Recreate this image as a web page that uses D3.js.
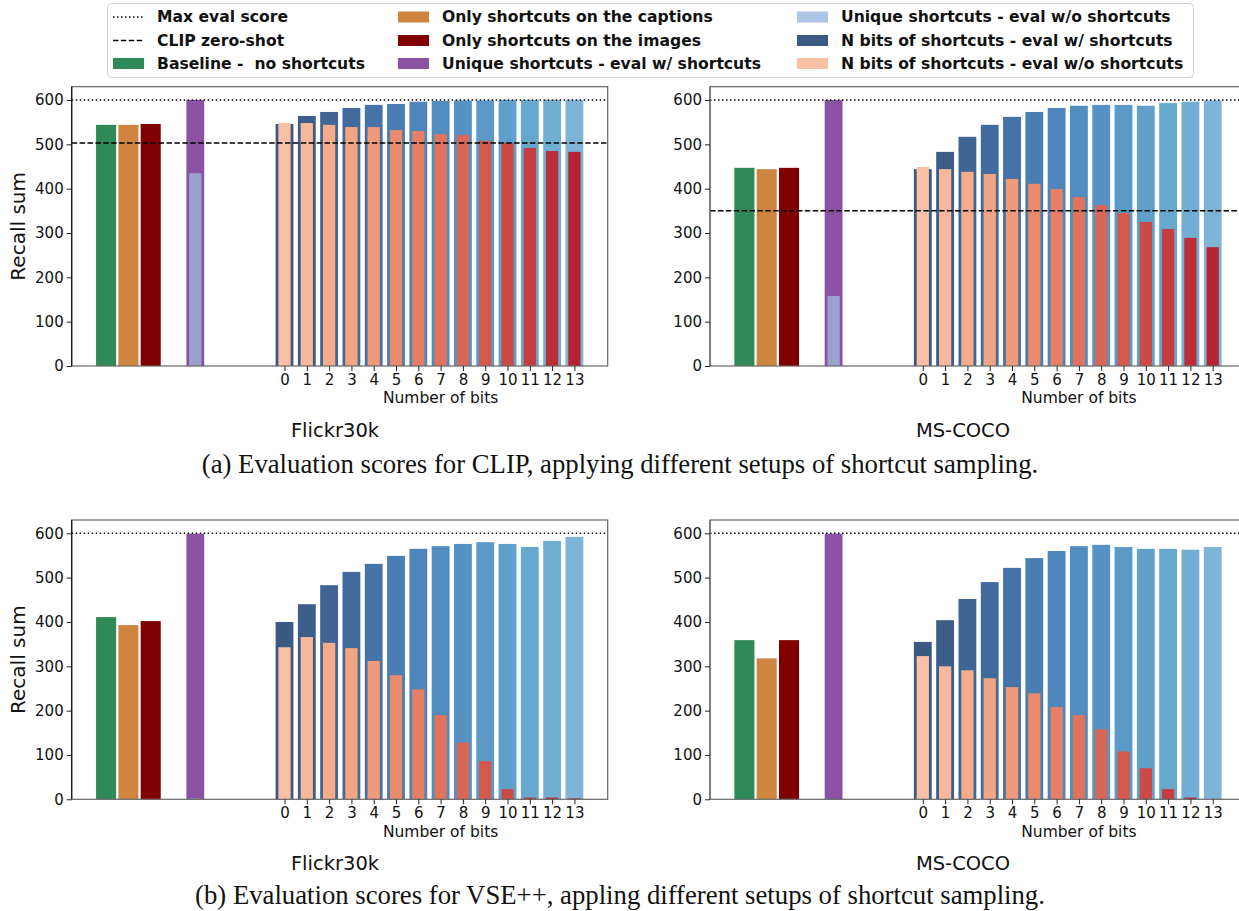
<!DOCTYPE html>
<html>
<head>
<meta charset="utf-8">
<script src="https://cdn.jsdelivr.net/npm/d3@7"></script>
<style>
  body { margin: 0; background: #fff; }
  svg { display: block; }
</style>
</head>
<body>
<script>
/////////////////////////////////////////////////////////////////////
// DATA
/////////////////////////////////////////////////////////////////////
var groupPos = [-8, -7, -6];          // baseline, only captions, only images
var uniquePos = -4;
var bits = [0, 1, 2, 3, 4, 5, 6, 7, 8, 9, 10, 11, 12, 13];
var yTicks = [0, 100, 200, 300, 400, 500, 600];
var maxScore = 600;
var clipZeroShot = [503, 350];        // Flickr30k, MS-COCO

// (a) CLIP - Flickr30k
var clipF30kGroups = [544, 544, 546];
var clipF30kUnique = [600, 435];      // eval w/, eval w/o
var clipF30kBitsW  = [546, 564, 573, 582, 589, 591, 596, 598, 599, 599, 600, 600, 600, 600];
var clipF30kBitsWo = [548, 548, 544, 539, 539, 532, 530, 523, 521, 508, 503, 492, 485, 483];

// (a) CLIP - MS-COCO
var clipCocoGroups = [447, 444, 447];
var clipCocoUnique = [600, 158];
var clipCocoBitsW  = [444, 483, 517, 544, 562, 573, 582, 587, 589, 589, 587, 593, 596, 599];
var clipCocoBitsWo = [449, 444, 438, 433, 422, 411, 399, 381, 363, 345, 325, 309, 289, 268];

// (b) VSE++ - Flickr30k
var vseF30kGroups = [411, 393, 402];
var vseF30kUnique = [599, 2];
var vseF30kBitsW  = [400, 440, 483, 513, 531, 549, 565, 571, 576, 580, 576, 569, 583, 592];
var vseF30kBitsWo = [343, 366, 353, 341, 312, 280, 248, 190, 128, 86, 23, 4, 4, 2];

// (b) VSE++ - MS-COCO
var vseCocoGroups = [359, 318, 359];
var vseCocoUnique = [599, 0];
var vseCocoBitsW  = [355, 404, 452, 490, 522, 544, 560, 571, 574, 569, 565, 565, 563, 569];
var vseCocoBitsWo = [323, 300, 291, 273, 253, 239, 208, 190, 158, 108, 70, 23, 4, 0];

/////////////////////////////////////////////////////////////////////
// STYLE
/////////////////////////////////////////////////////////////////////
var groupColors = ["#2e8b57", "#cd853f", "#800000"];
var uniqueColor = "#8b52a4", uniqueWoColor = "#98a2cd", uniqueWoLegend = "#adc6e5";
var blues = ["#3a5a84","#3a5d8a","#3e6594","#426b9d","#4673a7","#4a7db1","#4e85ba",
             "#528dc0","#5693c4","#5b9ac8","#61a0cb","#67a8cf","#70aed3","#7eb5d6"];
var reds  = ["#f9c0a5","#f8b89b","#f6ab8a","#f3a481","#f09a78","#eb8b6d","#e57f65",
             "#e0735b","#d96756","#d3594d","#cc4a45","#c53d40","#bc2e38","#b52230"];
var sans = "'DejaVu Sans', sans-serif";
var dotted = "1.5,2.5", dashed = "5.5,2.4";

var W = 1239, H = 911;
var svg = d3.select("body").append("svg").attr("width", W).attr("height", H);
svg.append("rect").attr("width", W).attr("height", H).attr("fill", "#fff");

var panelW = 536, panelH = 279.3;

//-------------------------------------------------------------------
// Draw one bar panel
//-------------------------------------------------------------------
function drawPanel(o) {
   var x = d3.scaleLinear().domain([-9.5425, 14.4925]).range([o.x0, o.x0 + panelW]);
   var y = d3.scaleLinear().domain([0, 630]).range([o.y0 + panelH, o.y0]);
   var g = svg.append("g");
   var bw = function(w) { return x(w) - x(0); };

   // baseline / captions / images
   g.selectAll(".grp").data(o.groups).enter().append("rect")
      .attr("x", function(d, i) { return x(groupPos[i] - 0.45); })
      .attr("width", bw(0.9))
      .attr("y", function(d) { return y(d); })
      .attr("height", function(d) { return y(0) - y(d); })
      .attr("fill", function(d, i) { return groupColors[i]; });

   // unique shortcuts
   g.append("rect").attr("x", x(uniquePos - 0.4)).attr("width", bw(0.8))
      .attr("y", y(o.unique[0])).attr("height", y(0) - y(o.unique[0])).attr("fill", uniqueColor);
   g.append("rect").attr("x", x(uniquePos - 0.275)).attr("width", bw(0.55))
      .attr("y", y(o.unique[1])).attr("height", y(0) - y(o.unique[1])).attr("fill", uniqueWoColor);

   // n bits
   g.selectAll(".bw").data(o.bitsW).enter().append("rect")
      .attr("x", function(d, i) { return x(bits[i] - 0.4); })
      .attr("width", bw(0.8))
      .attr("y", function(d) { return y(d); })
      .attr("height", function(d) { return y(0) - y(d); })
      .attr("fill", function(d, i) { return blues[i]; });
   g.selectAll(".bwo").data(o.bitsWo).enter().append("rect")
      .attr("x", function(d, i) { return x(bits[i] - 0.275); })
      .attr("width", bw(0.55))
      .attr("y", function(d) { return y(d); })
      .attr("height", function(d) { return y(0) - y(d); })
      .attr("fill", function(d, i) { return reds[i]; });

   // reference lines
   g.append("line").attr("x1", o.x0).attr("x2", o.x0 + panelW)
      .attr("y1", y(maxScore)).attr("y2", y(maxScore))
      .attr("stroke", "#000").attr("stroke-width", 1.5).attr("stroke-dasharray", dotted);
   if (o.zeroShot != null) {
      g.append("line").attr("x1", o.x0).attr("x2", o.x0 + panelW)
         .attr("y1", y(o.zeroShot)).attr("y2", y(o.zeroShot))
         .attr("stroke", "#000").attr("stroke-width", 1.5).attr("stroke-dasharray", dashed);
   }

   // frame
   g.append("rect").attr("x", o.x0).attr("y", o.y0).attr("width", panelW).attr("height", panelH)
      .attr("fill", "none").attr("stroke", "#666").attr("stroke-width", 1.2);
   g.append("line").attr("x1", o.x0).attr("x2", o.x0).attr("y1", o.y0).attr("y2", o.y0 + panelH)
      .attr("stroke", o.ylabel ? "#111" : "#666").attr("stroke-width", 1.2);

   // axes
   var ya = g.append("g").attr("transform", "translate(" + o.x0 + ",0)")
      .call(d3.axisLeft(y).tickValues(yTicks).tickSize(5).tickPadding(3));
   var xa = g.append("g").attr("transform", "translate(0," + (o.y0 + panelH) + ")")
      .call(d3.axisBottom(x).tickValues(bits).tickSize(5).tickPadding(3));
   [ya, xa].forEach(function(a) {
      a.select(".domain").remove();
      a.selectAll("text").style("font-family", sans).style("font-size", "15px").attr("fill", "#111");
      a.selectAll("line").attr("stroke", "#222");
   });

   g.append("text").attr("x", x(7)).attr("y", o.y0 + panelH + 32).attr("dy", "0.35em")
      .attr("text-anchor", "middle").style("font-family", sans).style("font-size", "15.5px")
      .attr("fill", "#111").text("Number of bits");

   if (o.ylabel) {
      g.append("text").attr("transform", "translate(18," + (o.y0 + panelH / 2) + ") rotate(-90)")
         .attr("dy", "0.35em").attr("text-anchor", "middle")
         .style("font-family", sans).style("font-size", "20px").attr("fill", "#111").text(o.ylabel);
   }

   g.append("text").attr("x", o.titleX).attr("y", o.y0 + panelH + 64).attr("dy", "0.35em")
      .attr("text-anchor", "middle").style("font-family", sans).style("font-size", "19.5px")
      .attr("fill", "#111").text(o.title);
}

drawPanel({x0: 71.7, y0: 86.7, groups: clipF30kGroups, unique: clipF30kUnique,
           bitsW: clipF30kBitsW, bitsWo: clipF30kBitsWo, zeroShot: clipZeroShot[0],
           ylabel: "Recall sum", title: "Flickr30k", titleX: 335});
drawPanel({x0: 710, y0: 86.7, groups: clipCocoGroups, unique: clipCocoUnique,
           bitsW: clipCocoBitsW, bitsWo: clipCocoBitsWo, zeroShot: clipZeroShot[1],
           title: "MS-COCO", titleX: 963});
drawPanel({x0: 71.7, y0: 520, groups: vseF30kGroups, unique: vseF30kUnique,
           bitsW: vseF30kBitsW, bitsWo: vseF30kBitsWo, zeroShot: null,
           ylabel: "Recall sum", title: "Flickr30k", titleX: 335});
drawPanel({x0: 710, y0: 520, groups: vseCocoGroups, unique: vseCocoUnique,
           bitsW: vseCocoBitsW, bitsWo: vseCocoBitsWo, zeroShot: null,
           title: "MS-COCO", titleX: 963});

//-------------------------------------------------------------------
// Captions (fit to the reference width)
//-------------------------------------------------------------------
function caption(txt, cy, width) {
   var t = svg.append("text").attr("x", 620).attr("y", cy).attr("dy", "0.35em")
      .attr("text-anchor", "middle").style("font-family", "'Liberation Serif', serif")
      .style("font-size", "20px").attr("fill", "#111").text(txt);
   var len = t.node().getComputedTextLength();
   t.style("font-size", (20 * width / len) + "px");
}
caption("(a) Evaluation scores for CLIP, applying different setups of shortcut sampling.", 464, 837);
caption("(b) Evaluation scores for VSE++, appling different setups of shortcut sampling.", 895, 850);

//-------------------------------------------------------------------
// Legend
//-------------------------------------------------------------------
var legendItems = [
   {col: 0, row: 0, kind: "line", dash: dotted, label: "Max eval score"},
   {col: 0, row: 1, kind: "line", dash: dashed, label: "CLIP zero-shot"},
   {col: 0, row: 2, kind: "patch", color: groupColors[0], label: "Baseline -  no shortcuts"},
   {col: 1, row: 0, kind: "patch", color: groupColors[1], label: "Only shortcuts on the captions"},
   {col: 1, row: 1, kind: "patch", color: groupColors[2], label: "Only shortcuts on the images"},
   {col: 1, row: 2, kind: "patch", color: uniqueColor, label: "Unique shortcuts - eval w/ shortcuts"},
   {col: 2, row: 0, kind: "patch", color: uniqueWoLegend, label: "Unique shortcuts - eval w/o shortcuts"},
   {col: 2, row: 1, kind: "patch", color: blues[0], label: "N bits of shortcuts - eval w/ shortcuts"},
   {col: 2, row: 2, kind: "patch", color: reds[0], label: "N bits of shortcuts - eval w/o shortcuts"}
];
var colX = [113, 398, 797], rowY = [17, 40.5, 63.5];

var leg = svg.append("g");
leg.append("rect").attr("x", 107.5).attr("y", 3.5).attr("width", 1086).attr("height", 74)
   .attr("rx", 4).attr("fill", "#fff").attr("stroke", "#d0d0d0").attr("stroke-width", 1);

legendItems.forEach(function(d) {
   var hx = colX[d.col], cy = rowY[d.row];
   if (d.kind === "line") {
      leg.append("line").attr("x1", hx).attr("x2", hx + 31).attr("y1", cy).attr("y2", cy)
         .attr("stroke", "#000").attr("stroke-width", 1.5).attr("stroke-dasharray", d.dash);
   } else {
      leg.append("rect").attr("x", hx).attr("y", cy - 5.5).attr("width", 31).attr("height", 11)
         .attr("fill", d.color);
   }
   leg.append("text").attr("x", hx + 44).attr("y", cy).attr("dy", "0.35em")
      .style("font-family", sans).style("font-size", "15.6px").style("font-weight", "bold")
      .style("white-space", "pre").attr("fill", "#111").text(d.label);
});
</script>
</body>
</html>
